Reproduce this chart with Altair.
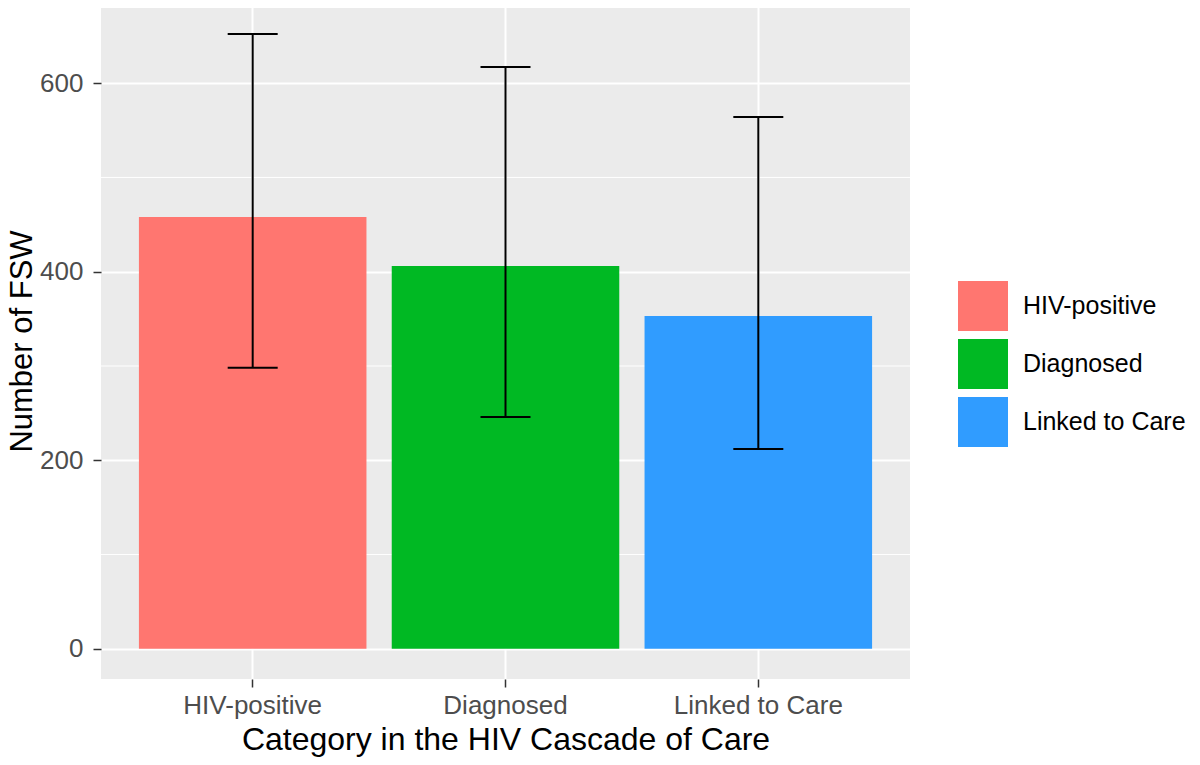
import altair as alt
import pandas as pd

categories = ["HIV-positive", "Diagnosed", "Linked to Care"]
counts = [458, 406, 353]
lower = [298, 246, 212]
upper = [652, 617, 564]
colors = ["#FF7670", "#00B923", "#309CFF"]
minor_grid = [100, 300, 500]

df = pd.DataFrame(
    {"category": categories, "count": counts, "lower": lower, "upper": upper}
)
minor = pd.DataFrame({"y": minor_grid})

FONT = "Liberation Sans"

x_enc = alt.X(
    "category:N",
    sort=categories,
    scale=alt.Scale(paddingInner=0.1, paddingOuter=0.15),
    axis=alt.Axis(
        title="Category in the HIV Cascade of Care",
        labelAngle=0,
        grid=True,
        gridColor="white",
        gridWidth=2,
        domain=False,
        tickColor="#333333",
        tickSize=8,
        tickWidth=1.5,
        labelPadding=5,
        labelFontSize=26,
        labelColor="#4D4D4D",
        titleFontSize=32,
        titleFontWeight="normal",
        titleColor="black",
        titlePadding=6,
    ),
)

y_scale = alt.Scale(domain=[-32, 685], nice=False, zero=False)
y_axis = alt.Axis(
    title="Number of FSW",
    values=[0, 200, 400, 600],
    grid=True,
    gridColor="white",
    gridWidth=2,
    domain=False,
    tickColor="#333333",
    tickSize=8,
    tickWidth=1.5,
    labelPadding=10,
    labelFontSize=26,
    labelColor="#4D4D4D",
    titleFontSize=31,
    titleFontWeight="normal",
    titleColor="black",
    titlePadding=1,
)

minor_rules = (
    alt.Chart(minor)
    .mark_rule(color="white", strokeWidth=1)
    .encode(y=alt.Y("y:Q", scale=y_scale, axis=y_axis))
)

bars = (
    alt.Chart(df)
    .mark_bar()
    .encode(
        x=x_enc,
        y=alt.Y("count:Q", scale=y_scale, axis=y_axis),
        color=alt.Color(
            "category:N",
            sort=categories,
            scale=alt.Scale(domain=categories, range=colors),
            legend=alt.Legend(
                title=None,
                orient="none",
                legendX=857,
                legendY=278,
                direction="vertical",
                symbolType="square",
                symbolSize=2500,
                symbolStrokeWidth=0,
                symbolOpacity=1,
                labelFontSize=25,
                labelColor="black",
                labelOffset=15,
                labelLimit=400,
                rowPadding=8,
                padding=0,
            ),
        ),
    )
)

whisker = (
    alt.Chart(df)
    .mark_rule(color="black", strokeWidth=2)
    .encode(x=x_enc, y=alt.Y("lower:Q", scale=y_scale), y2="upper:Q")
)

cap_lo = (
    alt.Chart(df)
    .mark_tick(color="black", size=50, thickness=2, opacity=1)
    .encode(x=x_enc, y=alt.Y("lower:Q", scale=y_scale))
)

cap_hi = (
    alt.Chart(df)
    .mark_tick(color="black", size=50, thickness=2, opacity=1)
    .encode(x=x_enc, y=alt.Y("upper:Q", scale=y_scale))
)

chart = (
    alt.layer(minor_rules, bars, whisker, cap_lo, cap_hi)
    .properties(
        width=809,
        height=676,
        autosize=alt.AutoSizeParams(type="none"),
        padding={"left": 93, "top": -5, "right": 282, "bottom": 78},
    )
    .configure(font=FONT)
    .configure_view(fill="#EBEBEB", strokeWidth=0)
)

chart.save("out.html", embed_options={"renderer": "svg", "actions": False})
